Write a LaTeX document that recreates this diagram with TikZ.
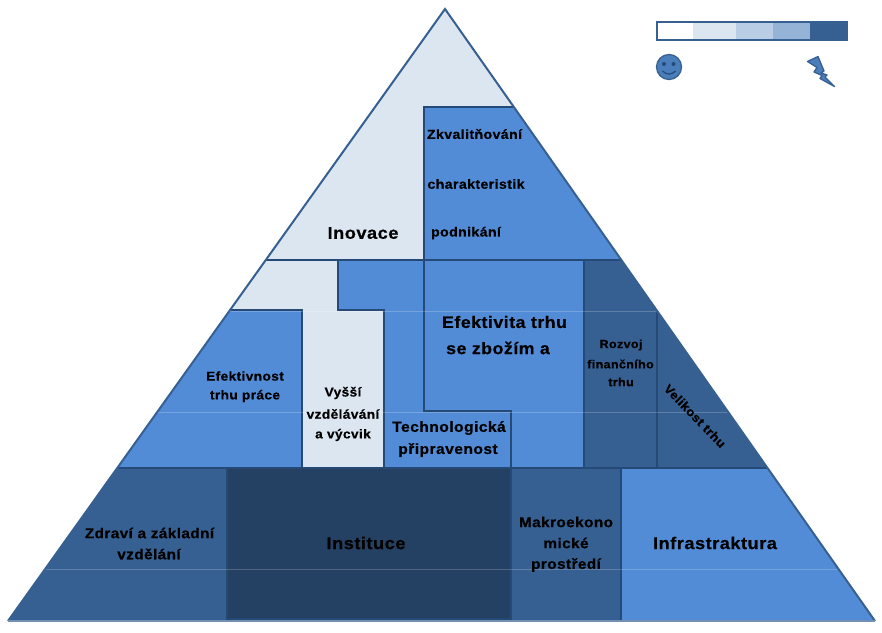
\documentclass[tikz,border=0pt]{standalone}
\usepackage{fontspec}
\setmainfont[FakeStretch=1.07,LetterSpace=3,BoldFeatures={FakeBold=0.5}]{Liberation Sans}
\definecolor{pale}{HTML}{DCE6F1}
\definecolor{midblue}{HTML}{538CD6}
\definecolor{steel}{HTML}{376092}
\definecolor{navy}{HTML}{244062}
\definecolor{edge}{HTML}{254A78}
\definecolor{band2}{HTML}{B9CDE5}
\definecolor{band3}{HTML}{95B3D7}
\definecolor{smile}{HTML}{4A7EBB}
\tikzset{
  lab/.style={font=\bfseries\fontsize{#1}{#1}\selectfont,text=black,inner sep=0pt,anchor=center},
  cell/.style={draw=edge,line width=1.6pt,line join=miter},
  glow/.style={draw=white,opacity=.2,line width=1pt},
  rim/.style={draw=steel,line width=2pt,line join=miter}
}
\begin{document}
\begin{tikzpicture}[x=1pt,y=-1pt]
\useasboundingbox (0,0) rectangle (882,632);
\fill[white] (0,0) rectangle (882,632);
\begin{scope}
\clip (445,9) -- (875,621) -- (8,621) -- cycle;
% pale ground
\fill[pale] (0,0) rectangle (882,470);
% top row
\path[cell,fill=midblue] (424,107) -- (560,107) -- (660,260) -- (424,260) -- cycle;
\draw[cell] (200,260) -- (424,260);
% middle row
\path[cell,fill=midblue] (100,310) -- (302,310) -- (302,468) -- (100,468) -- cycle;
\path[cell,fill=midblue] (338,260) -- (424,260) -- (424,411) -- (511,411) -- (511,468) -- (384,468) -- (384,310) -- (338,310) -- cycle;
\path[cell,fill=midblue] (424,260) -- (584,260) -- (584,468) -- (511,468) -- (511,411) -- (424,411) -- cycle;
\path[cell,fill=steel] (584,260) -- (660,260) -- (800,468) -- (584,468) -- cycle;
\draw[cell] (657,310) -- (657,468);
% bottom row
\path[cell,fill=steel] (0,468) -- (227,468) -- (227,630) -- (0,630) -- cycle;
\path[draw=edge!80!navy,line width=1.2pt,fill=navy] (227,468) -- (511,468) -- (511,619) -- (227,619) -- cycle;
\path[cell,fill=steel] (511,468) -- (621,468) -- (621,630) -- (511,630) -- cycle;
\path[cell,fill=midblue] (621,468) -- (882,468) -- (882,630) -- (621,630) -- cycle;
% faint bands
\draw[glow] (0,311) -- (882,311);
\draw[glow] (0,412) -- (882,412);
\draw[glow] (0,569) -- (882,569);
\end{scope}
\draw[rim] (8,621) -- (445,9) -- (875,621);
\draw[draw=steel!70,line width=1.2pt] (8,621) -- (875,621);
% labels
\node[lab=13.2] (zk) at (474.5,134) {Zkvalitňování};
\node[lab=13.2] (ch) at (476,184) {charakteristik};
\node[lab=13.2] (po) at (466,233) {podnikání};
\node[lab=17] (in) at (363,233) {Inovace};
\node[lab=16.6] (ef1) at (504.5,322) {Efektivita trhu};
\node[lab=16.6] (ef2) at (498,348) {se zbožím a};
\node[lab=12.8] (ep1) at (245,376) {Efektivnost};
\node[lab=12.8] (ep2) at (245,396) {trhu práce};
\node[lab=12.8] (vy1) at (343,393) {Vyšší};
\node[lab=12.8] (vy2) at (343,414) {vzdělávání};
\node[lab=12.8] (vy3) at (343,435) {a výcvik};
\node[lab=14.6] (te1) at (449,428) {Technologická};
\node[lab=14.6] (te2) at (448,450) {připravenost};
\node[lab=11.7] (ro1) at (621,345) {Rozvoj};
\node[lab=11.7] (ro2) at (620.5,364) {finančního};
\node[lab=11.7] (ro3) at (621,382) {trhu};
\node[lab=12.2,rotate=-46] (ve) at (695,416) {Velikost trhu};
\node[lab=14.3] (zd1) at (149.5,533) {Zdraví a základní};
\node[lab=14.3] (zd2) at (149,554) {vzdělání};
\node[lab=17] (is) at (366,543) {Instituce};
\node[lab=14.3] (ma1) at (566,522) {Makroekono};
\node[lab=14.3] (ma2) at (566,543) {mické};
\node[lab=14.3] (ma3) at (566,565) {prostředí};
\node[lab=17] (fr) at (715,543) {Infrastraktura};
% legend bar
\fill[white] (657,22) rectangle (693,40);
\fill[pale] (693,22) rectangle (736,40);
\fill[band2] (736,22) rectangle (773,40);
\fill[band3] (773,22) rectangle (810,40);
\fill[steel] (810,22) rectangle (847,40);
\draw[steel,line width=1.8pt] (657,22) rectangle (847,40);
% smiley
\draw[fill=smile,draw=steel,line width=1.3pt] (669,67) circle (12.5);
\fill[edge] (664,64) circle (2) (673.5,64) circle (2);
\draw[edge,line width=1.2pt] (662.5,71) .. controls (666,75) and (672,75) .. (675.5,71);
% lightning
\path[fill=smile,draw=steel,line width=1.3pt,line join=round] (807.5,61.5) -- (818,56.5) -- (824,71) -- (821,73) -- (827,75) -- (825,77) -- (834.5,86.5) -- (820,78.5) -- (822,75.5) -- (814,72) -- (817,67.5) -- cycle;
\end{tikzpicture}
\end{document}
